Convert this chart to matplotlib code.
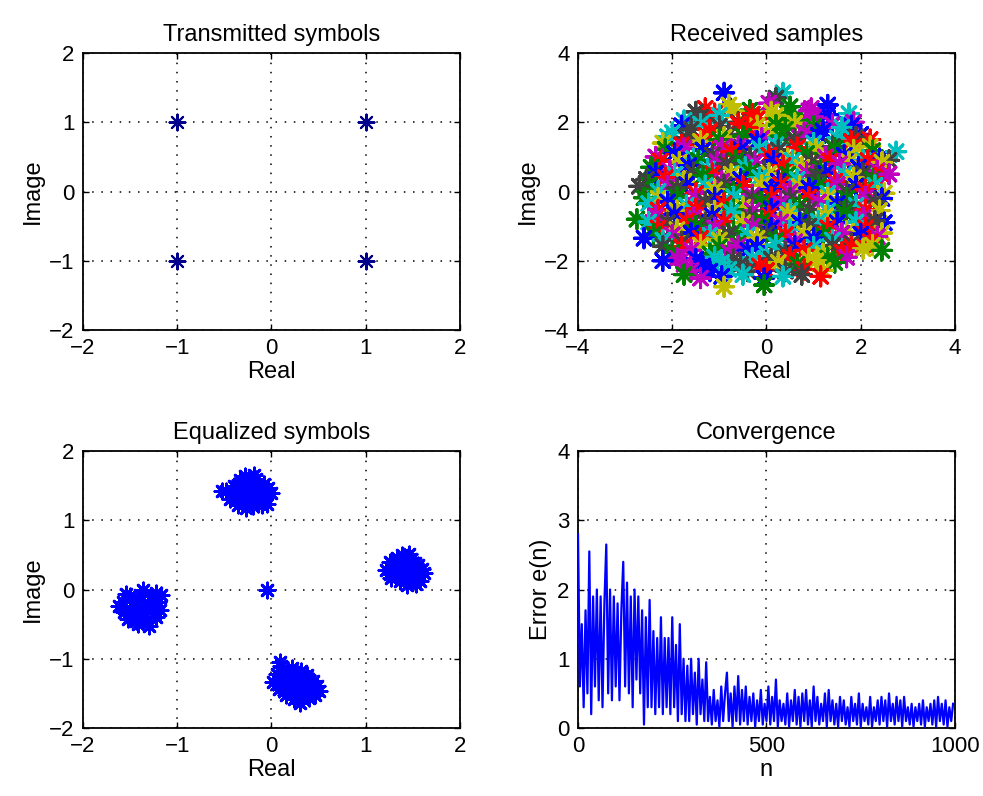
import matplotlib
matplotlib.use('Agg')
import matplotlib.pyplot as plt
import numpy as np

plt.rcParams['font.family'] = ['Liberation Sans', 'DejaVu Sans']

# transmitted QPSK symbols
tx_re = [-1, 1, -1, 1]
tx_im = [1, 1, -1, -1]

rx_re = [
    -0.9, 0.35, 0.2,
    -1.3, -0.8, -0.35, 0.05, 0.5, 0.95, 1.3, 1.75,
    -1.5, -1.1, -0.7, -0.3, 0.1, 0.5, 0.9, 1.3,
    -1.75, -1.4, -1.0, -0.6, -0.2, 0.2, 0.6, 1.0, 1.4, 1.85,
    -1.8, -1.4, -1.0, -0.6, -0.2, 0.2, 0.6, 1.0, 1.4, 1.8,
    -2.0, -1.6, -1.2, -0.8, -0.4, 0.0, 0.4, 0.8, 1.2, 1.6, 2.0,
    -2.1, -1.7, -1.3, -0.9, -0.5, -0.1, 0.3, 0.7, 1.1, 1.5, 1.9, 2.2,
    -2.2, -1.8, -1.4, -1.0, -0.6, -0.2, 0.2, 0.6, 1.0, 1.4, 1.8, 2.2,
    -2.15, -1.75, -1.35, -0.95, -0.55, -0.15, 0.25, 0.65, 1.05, 1.45, 1.85, 2.25,
    -2.35, -1.95, -1.55, -1.15, -0.75, -0.35, 0.05, 0.45, 0.85, 1.25, 1.65, 2.05, 2.4, 2.75, 2.6,
    -2.25, -1.85, -1.45, -1.05, -0.65, -0.25, 0.15, 0.55, 0.95, 1.35, 1.75, 2.15, 2.45,
    -2.45, -2.05, -1.65, -1.25, -0.85, -0.45, -0.05, 0.35, 0.75, 1.15, 1.55, 1.95, 2.35,
    -2.35, -1.95, -1.55, -1.15, -0.75, -0.35, 0.05, 0.45, 0.85, 1.25, 1.65, 2.05, 2.45,
    -2.55, -2.15, -1.75, -1.35, -0.95, -0.55, -0.15, 0.25, 0.65, 1.05, 1.45, 1.85, 2.25, 2.6,
    -2.5, -2.1, -1.7, -1.3, -0.9, -0.5, -0.1, 0.3, 0.7, 1.1, 1.5, 1.9, 2.3,
    -2.7, -2.3, -1.9, -1.5, -1.1, -0.7, -0.3, 0.1, 0.5, 0.9, 1.3, 1.7, 2.1, 2.5,
    -2.6, -2.3, -1.9, -1.5, -1.1, -0.7, -0.3, 0.1, 0.5, 0.9, 1.3, 1.7, 2.1, 2.45,
    -2.5, -2.1, -1.7, -1.3, -0.9, -0.5, -0.1, 0.3, 0.7, 1.1, 1.5, 1.9, 2.3,
    -2.3, -1.9, -1.5, -1.1, -0.7, -0.3, 0.1, 0.5, 0.9, 1.3, 1.7, 2.1, 2.4,
    -2.75, -2.35, -1.95, -1.55, -1.15, -0.75, -0.35, 0.05, 0.45, 0.85, 1.25, 1.65, 2.05, 2.5,
    -2.5, -2.1, -1.7, -1.3, -0.9, -0.5, -0.1, 0.3, 0.7, 1.1, 1.5, 1.9, 2.3,
    -2.3, -1.9, -1.5, -1.1, -0.7, -0.3, 0.1, 0.5, 0.9, 1.3, 1.7, 2.1, 2.45,
    -2.4, -2.0, -1.6, -1.2, -0.8, -0.4, 0.0, 0.4, 0.8, 1.2, 1.6, 2.0, 2.35,
    -2.6, -2.2, -1.8, -1.4, -1.0, -0.6, -0.2, 0.2, 0.6, 1.0, 1.4, 1.8, 2.2,
    -2.2, -1.8, -1.4, -1.0, -0.6, -0.2, 0.2, 0.6, 1.0, 1.4, 1.8, 2.25,
    -2.0, -1.6, -1.2, -0.8, -0.4, 0.0, 0.4, 0.8, 1.2, 1.6, 2.05, 2.45,
    -1.9, -1.5, -1.1, -0.7, -0.3, 0.1, 0.5, 0.9, 1.3, 1.7,
    -2.2, -1.75, -1.35, -0.95, -0.55, -0.15, 0.25, 0.65, 1.05, 1.45,
    -1.6, -1.2, -0.8, -0.4, 0.0, 0.4, 0.8, 1.2,
    -1.75, -1.4, -0.95, -0.5, -0.05, 0.35, 0.75, 1.15,
    -0.9, -0.05,
]
rx_im = [
    2.85, 2.85, 2.7,
    2.4, 2.5, 2.35, 2.55, 2.45, 2.4, 2.5, 2.25,
    2.3, 2.25, 2.32, 2.24, 2.3, 2.26, 2.33, 2.22,
    2.05, 2.15, 2.2, 2.0, 2.1, 2.2, 2.05, 2.15, 1.95, 2.0,
    1.9, 1.95, 1.88, 1.96, 1.9, 1.92, 1.97, 1.88, 1.93, 1.9,
    1.7, 1.8, 1.75, 1.65, 1.85, 1.7, 1.8, 1.7, 1.75, 1.85, 1.65,
    1.58, 1.55, 1.62, 1.57, 1.6, 1.54, 1.6, 1.56, 1.62, 1.55, 1.58, 1.5,
    1.4, 1.35, 1.45, 1.5, 1.3, 1.45, 1.35, 1.5, 1.4, 1.3, 1.45, 1.3,
    1.22, 1.25, 1.2, 1.26, 1.21, 1.24, 1.2, 1.27, 1.22, 1.25, 1.2, 1.18,
    1.0, 1.1, 0.95, 1.05, 1.15, 1.0, 1.05, 0.95, 1.1, 1.0, 1.05, 0.9, 0.95, 1.15, 0.9,
    0.88, 0.85, 0.9, 0.86, 0.9, 0.84, 0.88, 0.9, 0.85, 0.88, 0.86, 0.9, 0.84,
    0.7, 0.6, 0.75, 0.65, 0.8, 0.7, 0.6, 0.75, 0.7, 0.65, 0.8, 0.7, 0.6,
    0.53, 0.5, 0.55, 0.52, 0.5, 0.56, 0.52, 0.5, 0.55, 0.53, 0.5, 0.52, 0.48,
    0.35, 0.4, 0.3, 0.45, 0.3, 0.35, 0.4, 0.3, 0.35, 0.45, 0.3, 0.4, 0.35, 0.5,
    0.18, 0.15, 0.2, 0.17, 0.2, 0.16, 0.18, 0.2, 0.15, 0.18, 0.2, 0.16, 0.18,
    0.15, 0.0, 0.1, -0.05, 0.05, 0.0, -0.1, 0.05, 0.0, 0.1, -0.05, 0.0, 0.05, -0.05,
    -0.18, -0.2, -0.16, -0.2, -0.18, -0.15, -0.2, -0.17, -0.2, -0.16, -0.18, -0.2, -0.16, -0.2,
    -0.35, -0.3, -0.4, -0.3, -0.35, -0.45, -0.3, -0.35, -0.4, -0.3, -0.35, -0.4, -0.3,
    -0.53, -0.55, -0.5, -0.56, -0.52, -0.55, -0.5, -0.54, -0.52, -0.56, -0.5, -0.53, -0.55,
    -0.8, -0.7, -0.65, -0.75, -0.7, -0.6, -0.75, -0.7, -0.65, -0.8, -0.7, -0.6, -0.75, -0.9,
    -0.88, -0.9, -0.85, -0.9, -0.87, -0.9, -0.85, -0.88, -0.9, -0.86, -0.9, -0.88, -0.85,
    -1.05, -1.1, -1.0, -1.05, -1.15, -1.0, -1.05, -1.1, -1.0, -1.05, -1.15, -1.05, -1.2,
    -1.23, -1.25, -1.2, -1.26, -1.22, -1.25, -1.2, -1.24, -1.22, -1.26, -1.2, -1.23, -1.3,
    -1.35, -1.4, -1.45, -1.35, -1.4, -1.5, -1.35, -1.4, -1.45, -1.35, -1.4, -1.5, -1.45,
    -1.58, -1.6, -1.55, -1.6, -1.57, -1.6, -1.55, -1.58, -1.6, -1.56, -1.6, -1.55,
    -1.75, -1.7, -1.8, -1.75, -1.7, -1.8, -1.75, -1.7, -1.8, -1.75, -1.65, -1.7,
    -1.93, -1.95, -1.9, -1.96, -1.92, -1.95, -1.9, -1.94, -1.92, -1.9,
    -2.0, -2.1, -2.15, -2.05, -2.1, -2.15, -2.05, -2.1, -2.0, -2.05,
    -2.28, -2.3, -2.25, -2.3, -2.28, -2.3, -2.25, -2.28,
    -2.4, -2.5, -2.45, -2.4, -2.5, -2.45, -2.4, -2.45,
    -2.75, -2.7,
]

# equalized symbols: four clusters plus one starting point
eq_re = [
    -0.48, -0.40, -0.40, -0.33, -0.32, -0.30, -0.24, -0.22, -0.20, -0.16, -0.14, -0.12,
    -0.08, -0.06, -0.05, -0.27, -0.36, -0.18, -0.28, -0.44, -0.10, -0.04, -0.26, -0.19,
    -0.36, -0.28, -0.12, -0.20, -0.30, -0.14, -0.42, -0.22, -0.52, 0.00,
    1.22, 1.26, 1.27, 1.33, 1.34, 1.36, 1.41, 1.42, 1.44, 1.48, 1.49, 1.51,
    1.56, 1.57, 1.58, 1.30, 1.38, 1.46, 1.53, 1.40, 1.62,
    1.30, 1.38, 1.46, 1.52, 1.44, 1.34, 1.50, 1.36, 1.60, 1.26,
    -1.58, -1.56, -1.52, -1.50, -1.46, -1.44, -1.40, -1.38, -1.35, -1.32, -1.28, -1.26,
    -1.22, -1.20, -1.17, -1.18, -1.42, -1.30, -1.54, -1.62, -1.36,
    -1.50, -1.42, -1.30, -1.24, -1.48, -1.36, -1.32, -1.44, -1.26, -1.22,
    0.02, 0.06, 0.08, 0.10, 0.12, 0.15, 0.18, 0.20, 0.24, 0.26, 0.28, 0.31,
    0.33, 0.36, 0.38, 0.42, 0.44, 0.48, 0.30, 0.22, 0.40, 0.46,
    0.16, 0.24, 0.30, 0.36, 0.20, 0.40, 0.12, 0.28, 0.34, 0.50, 0.09,
    -0.05,
]
eq_im = [
    1.42, 1.50, 1.34, 1.58, 1.42, 1.26, 1.52, 1.36, 1.20, 1.60, 1.45, 1.30,
    1.52, 1.38, 1.24, 1.18, 1.22, 1.66, 1.64, 1.30, 1.22, 1.46, 1.46, 1.40,
    1.46, 1.34, 1.38, 1.52, 1.54, 1.24, 1.38, 1.28, 1.42, 1.40,
    0.28, 0.40, 0.16, 0.46, 0.30, 0.12, 0.38, 0.22, 0.06, 0.44, 0.30, 0.14,
    0.36, 0.22, 0.12, 0.22, 0.50, 0.52, 0.08, 0.30, 0.24,
    0.34, 0.20, 0.24, 0.38, 0.42, 0.40, 0.22, 0.30, 0.30, 0.22,
    -0.18, -0.32, -0.42, -0.10, -0.24, -0.46, -0.08, -0.34, -0.20, -0.45, -0.10, -0.28,
    -0.40, -0.18, -0.08, -0.30, -0.50, -0.52, -0.06, -0.24, 0.00,
    -0.30, -0.16, -0.22, -0.34, -0.40, -0.40, -0.30, -0.26, -0.16, -0.05,
    -1.34, -1.22, -1.44, -1.10, -1.30, -1.52, -1.38, -1.24, -1.58, -1.44, -1.30, -1.18,
    -1.52, -1.38, -1.24, -1.46, -1.32, -1.40, -1.64, -1.14, -1.56, -1.52,
    -1.26, -1.36, -1.46, -1.30, -1.48, -1.40, -1.40, -1.22, -1.58, -1.46, -1.05,
    0.0,
]

# error magnitude, sampled every 5 iterations
err_n = list(range(0, 1000, 5))
err = [
    2.8, 0.6, 1.5, 0.3, 1.7, 0.5, 2.55, 0.2, 1.9, 0.6,
    2.0, 0.4, 1.9, 0.3, 1.8, 2.65, 0.5, 2.0, 0.4, 1.9,
    0.6, 1.8, 0.4, 1.7, 2.4, 0.6, 2.1, 0.5, 1.9, 0.3,
    2.0, 0.7, 1.9, 0.5, 1.7, 0.05, 1.6, 0.3, 1.85, 0.3,
    1.4, 0.2, 1.3, 0.3, 1.6, 0.2, 1.3, 0.3, 1.3, 0.2,
    1.6, 0.3, 1.2, 0.1, 1.5, 0.2, 1.0, 0.1, 0.9, 0.1,
    1.0, 0.2, 0.8, 0.05, 1.0, 0.2, 0.7, 0.1, 0.95, 0.1,
    0.45, 0.05, 0.55, 0.1, 0.4, 0.02, 0.6, 0.1, 0.5, 0.8,
    0.1, 0.5, 0.02, 0.6, 0.1, 0.75, 0.05, 0.55, 0.1, 0.6,
    0.05, 0.45, 0.1, 0.5, 0.02, 0.4, 0.1, 0.55, 0.05, 0.35,
    0.1, 0.6, 0.05, 0.45, 0.1, 0.7, 0.02, 0.4, 0.1, 0.35,
    0.05, 0.5, 0.02, 0.4, 0.1, 0.55, 0.05, 0.45, 0.02, 0.5,
    0.1, 0.55, 0.05, 0.4, 0.02, 0.6, 0.1, 0.45, 0.05, 0.35,
    0.1, 0.5, 0.02, 0.55, 0.1, 0.4, 0.05, 0.35, 0.02, 0.45,
    0.1, 0.4, 0.05, 0.3, 0.02, 0.45, 0.1, 0.35, 0.05, 0.5,
    0.02, 0.35, 0.1, 0.3, 0.05, 0.45, 0.02, 0.3, 0.1, 0.4,
    0.05, 0.45, 0.1, 0.4, 0.02, 0.5, 0.1, 0.35, 0.05, 0.45,
    0.1, 0.4, 0.02, 0.45, 0.1, 0.3, 0.05, 0.35, 0.02, 0.3,
    0.1, 0.35, 0.05, 0.4, 0.02, 0.3, 0.1, 0.35, 0.05, 0.4,
    0.02, 0.45, 0.1, 0.35, 0.05, 0.4, 0.02, 0.3, 0.1, 0.35,
]

# old MATLAB colour order
color_order = [(0, 0, 1), (0, 0.5, 0), (1, 0, 0), (0, 0.75, 0.75),
               (0.75, 0, 0.75), (0.75, 0.75, 0), (0.25, 0.25, 0.25)]

star = (8, 2, 0)

fig = plt.figure(figsize=(9.83, 7.96), dpi=100)
left_x, right_x, w = 0.0844, 0.588, 0.3835
top_y, bot_y, h = 0.5854, 0.0854, 0.348
ax1 = fig.add_axes([left_x, top_y, w, h])
ax2 = fig.add_axes([right_x, top_y, w, h])
ax3 = fig.add_axes([left_x, bot_y, w, h])
ax4 = fig.add_axes([right_x, bot_y, w, h])

ax1.scatter(tx_re, tx_im, marker=star, s=130, color=(0, 0, 0.55), linewidths=1.5, zorder=3)

# shuffle the colour cycle evenly so neighbouring samples don't line up in stripes
rx_colors = [color_order[(3 * i + i // 7) % 7] for i in range(len(rx_re))]
ax2.scatter(rx_re, rx_im, marker=star, s=190, c=rx_colors, linewidths=2.2, zorder=3)

ax3.scatter(eq_re, eq_im, marker=star, s=120, color='b', linewidths=2.0, zorder=3)

ax4.plot(err_n, err, color='b', linewidth=1.6, zorder=3)

setup = [
    (ax1, 'Transmitted symbols', 'Real', 'Image', (-2, 2), (-2, 2), [-2, -1, 0, 1, 2], [-2, -1, 0, 1, 2]),
    (ax2, 'Received samples', 'Real', 'Image', (-4, 4), (-4, 4), [-4, -2, 0, 2, 4], [-4, -2, 0, 2, 4]),
    (ax3, 'Equalized symbols', 'Real', 'Image', (-2, 2), (-2, 2), [-2, -1, 0, 1, 2], [-2, -1, 0, 1, 2]),
    (ax4, 'Convergence', 'n', 'Error e(n)', (0, 1000), (0, 4), [0, 500, 1000], [0, 1, 2, 3, 4]),
]
for ax, title, xl, yl, xlim, ylim, xt, yt in setup:
    ax.set_xlim(*xlim)
    ax.set_ylim(*ylim)
    ax.set_xticks(xt)
    ax.set_yticks(yt)
    ax.set_title(title, fontsize=17, pad=9)
    ax.set_xlabel(xl, fontsize=17, labelpad=1)
    ax.set_ylabel(yl, fontsize=17, labelpad=4)
    ax.tick_params(direction='in', length=4, width=1, labelsize=16, pad=6,
                   top=True, right=True)
    ax.grid(True, color='black', linestyle=(0, (1, 5)), linewidth=1.1)
    ax.set_axisbelow(True)
    for sp in ax.spines.values():
        sp.set_linewidth(1.3)

fig.savefig('out.png', dpi=100)
